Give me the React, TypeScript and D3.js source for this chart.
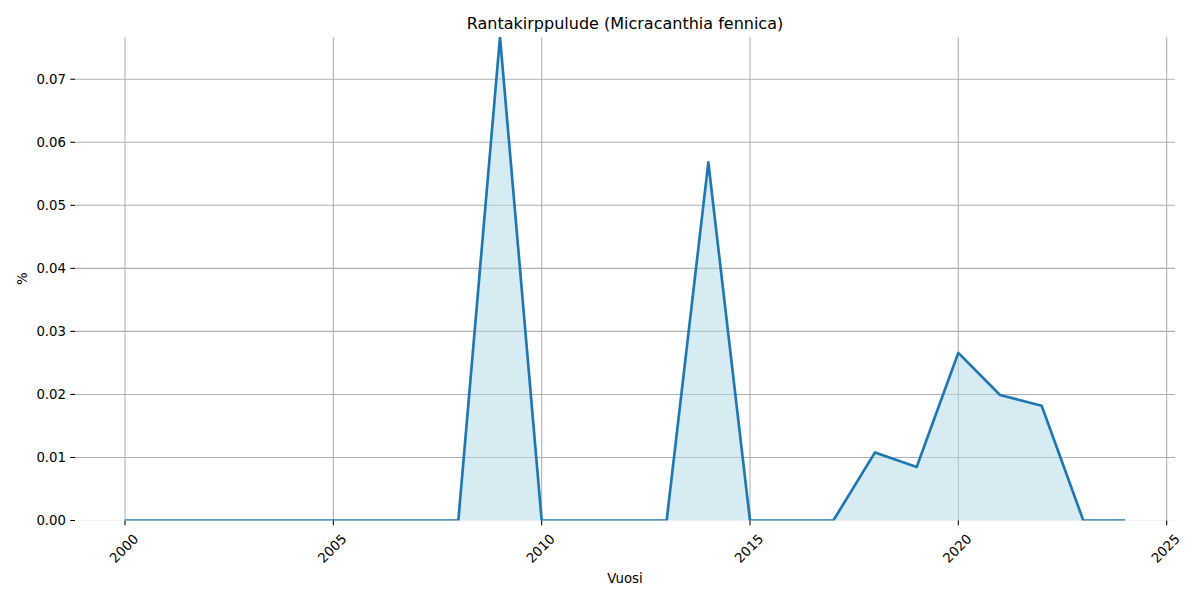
import React from 'react'
import * as d3 from 'd3'

const years = d3.range(2000, 2025)
const values = [
  0, 0, 0, 0, 0, 0, 0, 0, 0, 0.0767,
  0, 0, 0, 0, 0.0568, 0, 0, 0, 0.0108, 0.0085,
  0.0266, 0.0199, 0.0182, 0, 0,
]
const xTicks = [2000, 2005, 2010, 2015, 2020, 2025]
const yTicks = [0, 0.01, 0.02, 0.03, 0.04, 0.05, 0.06, 0.07]

const W = 1200
const H = 600
const left = 75
const right = 1175
const top = 37
const bottom = 520.5
const font = 'DejaVu Sans, sans-serif'

export default function App() {
  const data = years.map((y, i) => ({ year: y, v: values[i] }))
  const x = d3.scaleLinear().domain([1998.8, 2025.2]).range([left, right])
  const y = d3.scaleLinear().domain([0, d3.max(values) as number]).range([bottom, top])

  const line = d3.line<{ year: number; v: number }>().x(d => x(d.year)).y(d => y(d.v))
  const area = d3.area<{ year: number; v: number }>().x(d => x(d.year)).y0(y(0)).y1(d => y(d.v))

  return (
    <svg width={W} height={H} style={{ position: 'absolute', left: 0, top: 0 }} fontFamily={font}>
      <defs>
        <clipPath id="plot">
          <rect x={left} y={top} width={right - left} height={bottom - top} />
        </clipPath>
      </defs>
      <rect width={W} height={H} fill="white" />
      <g clipPath="url(#plot)">
        {xTicks.map(t => (
          <line key={'gx' + t} x1={x(t)} x2={x(t)} y1={top} y2={bottom} stroke="#b0b0b0" strokeWidth={1.07} />
        ))}
        {yTicks.map(t => (
          <line key={'gy' + t} x1={left} x2={right} y1={y(t)} y2={y(t)} stroke="#b0b0b0" strokeWidth={1.07} opacity={t === 0 ? 0.3 : 1} />
        ))}
        <path d={area(data) as string} fill="#add8e6" fillOpacity={0.5} />
        <path d={line(data) as string} fill="none" stroke="#1f77b4" strokeWidth={2.67} strokeLinejoin="round" />
      </g>
      {xTicks.map(t => (
        <g key={'xt' + t}>
          <line x1={x(t)} x2={x(t)} y1={bottom} y2={bottom + 4.7} stroke="black" strokeWidth={1.07} />
          <text
            transform={`translate(${x(t) - 1},${bottom + 28}) rotate(-45)`}
            textAnchor="middle"
            dominantBaseline="central"
            fontSize={13.3}
            fill="black"
          >
            {t}
          </text>
        </g>
      ))}
      {yTicks.map(t => (
        <g key={'yt' + t}>
          <line x1={left - 4.7} x2={left} y1={y(t)} y2={y(t)} stroke="black" strokeWidth={1.07} />
          <text x={left - 9} y={y(t)} textAnchor="end" dominantBaseline="central" fontSize={13.3} fill="black">
            {d3.format('.2f')(t)}
          </text>
        </g>
      ))}
      <text x={(left + right) / 2} y={23} textAnchor="middle" dominantBaseline="central" fontSize={16} fill="black">
        Rantakirppulude (Micracanthia fennica)
      </text>
      <text x={(left + right) / 2} y={578} textAnchor="middle" dominantBaseline="central" fontSize={13.3} fill="black">
        Vuosi
      </text>
      <text transform={`translate(22,${(top + bottom) / 2}) rotate(-90)`} textAnchor="middle" dominantBaseline="central" fontSize={13.3} fill="black">
        %
      </text>
    </svg>
  )
}
